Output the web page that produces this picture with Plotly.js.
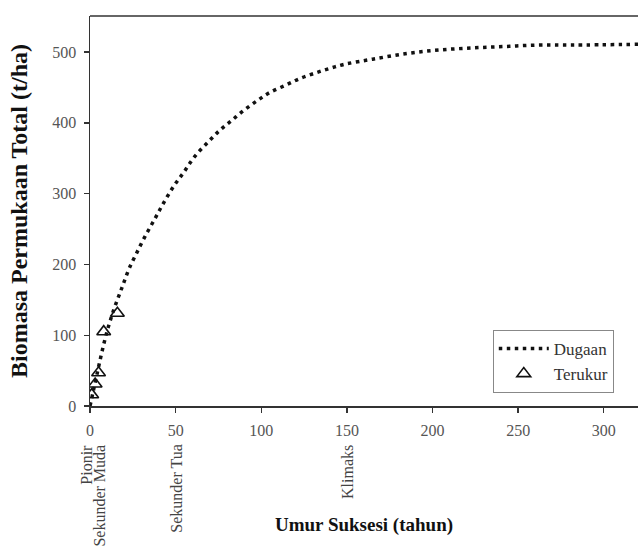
<!DOCTYPE html>
<html>
<head>
<meta charset="utf-8">
<script src="https://cdn.plot.ly/plotly-3.0.1.min.js"></script>
<style>html,body{margin:0;padding:0;background:#fff;}#chart{width:638px;height:555px;}</style>
</head>
<body>
<div id="chart"></div>
<script>
// Estimated (Dugaan) curve: age (years) and biomass (t/ha)
const estAge = [0, 2, 4, 6, 8, 10, 12, 14, 16, 18, 20, 23, 27, 32, 38, 43, 49, 55, 61, 69, 76, 83, 90, 98, 105, 114, 122, 131, 140, 149, 165, 185, 204, 224, 243, 262, 282, 320];
const estBiomass = [0, 22, 44, 66, 87, 106, 122, 137, 150, 163, 176, 195, 215, 239, 265, 287, 311, 331, 352, 373, 390, 404, 418, 432, 443, 453, 462, 470, 477, 483, 490, 498, 503, 506, 508, 510, 510, 511];
// Measured (Terukur) points
const measAge = [1, 3, 5, 8, 16];
const measBiomass = [16, 31, 47, 105, 131];
// Succession stage labels on the age axis
const stageNames = ["Pionir", "Sekunder Muda", "Sekunder Tua", "Klimaks"];
const stageAge = [0, 5, 50, 150];
const xTicks = [0, 50, 100, 150, 200, 250, 300];
const yTicks = [0, 100, 200, 300, 400, 500];

const serif = "Liberation Serif";

const traces = [
  {
    x: estAge, y: estBiomass, type: "scatter", mode: "lines", name: "Dugaan",
    line: {color: "#111", width: 3.5, dash: "3.5px,4.5px", shape: "spline"},
    hoverinfo: "skip"
  },
  {
    x: measAge, y: measBiomass, type: "scatter", mode: "markers", name: "Terukur",
    marker: {symbol: "triangle-up-open", size: 12, color: "#111", line: {width: 1.6, color: "#111"}},
    hoverinfo: "skip"
  }
];

const annotations = stageNames.map((t, i) => ({
  text: t, x: (i === 0 ? -0.008 : stageAge[i]), xref: (i === 0 ? "paper" : "x"), y: -0.095, yref: "paper",
  xanchor: "center", yanchor: "top", textangle: -90, showarrow: false,
  font: {family: serif, size: 16, color: "#444"}
}));

const layout = {
  width: 638, height: 555,
  margin: {l: 90, r: 0, t: 16, b: 149},
  paper_bgcolor: "#fff", plot_bgcolor: "#fff",
  font: {family: serif},
  showlegend: true,
  legend: {
    x: 0.735, y: 0.195, xanchor: "left", yanchor: "top",
    bgcolor: "#fff", bordercolor: "#888", borderwidth: 1,
    font: {family: serif, size: 17, color: "#333"},
    itemwidth: 50
  },
  xaxis: {
    range: [0, 320], tickvals: xTicks, ticks: "outside", ticklen: 5, tickwidth: 1.3, tickcolor: "#333",
    showline: true, linecolor: "#333", linewidth: 1.5, mirror: false,
    showgrid: false, zeroline: false, ticklabelstandoff: 4,
    tickfont: {family: serif, size: 16, color: "#555"},
    title: {text: "<b>Umur Suksesi (tahun)</b>", font: {family: serif, size: 19, color: "#111"}, standoff: 80}
  },
  yaxis: {
    range: [0, 551], tickvals: yTicks, ticks: "outside", ticklen: 5, tickwidth: 1.3, tickcolor: "#333",
    showline: true, linecolor: "#333", linewidth: 1.5,
    showgrid: false, zeroline: false, ticklabelstandoff: 4,
    tickfont: {family: serif, size: 16, color: "#555"},
    title: {text: "<b>Biomasa Permukaan Total (t/ha)</b>", font: {family: serif, size: 24, color: "#111"}, standoff: 18}
  },
  annotations: annotations,
  shapes: [
    {type: "line", xref: "paper", yref: "paper", x0: 0, x1: 1, y0: 1, y1: 1, line: {color: "#333", width: 1.5}}
  ]
};

Plotly.newPlot("chart", traces, layout, {staticPlot: true, displayModeBar: false});
</script>
</body>
</html>
